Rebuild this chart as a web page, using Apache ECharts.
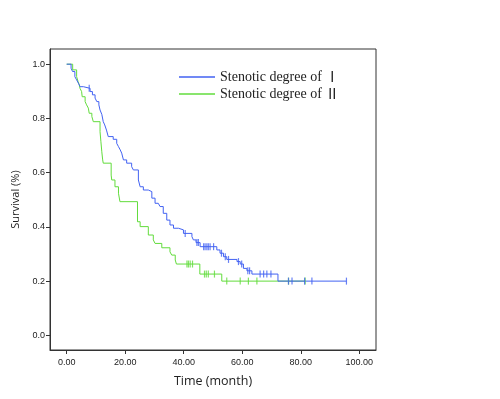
<!DOCTYPE html>
<html>
<head>
<meta charset="utf-8">
<script src="https://cdn.jsdelivr.net/npm/echarts@6/dist/echarts.min.js"></script>
<style>
  html, body { margin: 0; padding: 0; background: #fff; }
  #chart { width: 500px; height: 399px; }
</style>
</head>
<body>
<div id="chart"></div>
<script>
// Kaplan-Meier steps, [time (month), survival]
const degree1Steps = [
  [0, 1.0], [1.5, 0.985], [2.0, 0.973], [2.8, 0.954], [3.4, 0.942], [4.0, 0.930],
  [4.6, 0.917], [5.7, 0.911], [8.0, 0.899], [8.8, 0.887], [9.7, 0.875], [10.3, 0.862],
  [11.0, 0.850], [11.4, 0.831], [12.0, 0.815], [12.5, 0.788], [13.0, 0.776], [13.6, 0.757],
  [14.2, 0.733], [15.9, 0.723], [17.1, 0.708], [17.7, 0.696], [18.3, 0.684], [18.8, 0.672],
  [19.4, 0.647], [20.5, 0.635], [22.2, 0.622], [22.8, 0.610], [24.5, 0.573], [25.1, 0.548],
  [26.2, 0.536], [27.9, 0.530], [29.1, 0.506], [30.2, 0.487], [31.3, 0.481], [31.9, 0.475],
  [33.0, 0.450], [34.2, 0.425], [35.3, 0.407], [36.5, 0.395], [38.2, 0.389], [39.9, 0.376],
  [42.8, 0.364], [43.3, 0.352], [44.2, 0.342], [45.6, 0.327], [51.3, 0.315], [52.4, 0.303],
  [53.6, 0.290], [54.7, 0.280], [58.2, 0.272], [59.3, 0.263], [60.4, 0.247], [61.6, 0.238],
  [63.3, 0.226], [72.2, 0.200], [95.6, 0.200]
];
const degree2Steps = [
  [0, 1.0], [2.05, 0.979], [3.4, 0.954], [3.9, 0.936], [4.3, 0.924], [4.55, 0.911],
  [5.1, 0.899], [5.3, 0.880], [6.3, 0.862], [6.8, 0.850], [7.4, 0.838], [7.7, 0.819],
  [8.6, 0.807], [9.1, 0.788], [11.4, 0.751], [11.7, 0.714], [12.0, 0.677], [12.3, 0.647],
  [12.5, 0.635], [15.2, 0.591], [15.4, 0.573], [16.5, 0.548], [17.7, 0.524], [18.2, 0.493],
  [24.2, 0.419], [25.1, 0.401], [27.9, 0.370], [29.6, 0.352], [30.2, 0.339], [32.5, 0.323],
  [35.3, 0.308], [35.9, 0.296], [37.1, 0.278], [37.5, 0.263], [45.5, 0.226], [53.0, 0.200],
  [81.5, 0.200]
];
// censored observations
const degree1Censored = [
  [7.7, 0.911], [40.5, 0.376], [44.5, 0.342], [45.0, 0.342], [46.8, 0.327], [47.3, 0.327],
  [47.9, 0.327], [48.4, 0.327], [49.0, 0.327], [50.2, 0.327], [52.9, 0.303], [54.2, 0.290],
  [55.3, 0.280], [58.7, 0.272], [59.8, 0.263], [61.9, 0.238], [62.5, 0.238], [66.1, 0.226],
  [67.3, 0.226], [68.4, 0.226], [69.8, 0.226], [75.8, 0.2], [77.0, 0.2], [81.3, 0.2],
  [83.8, 0.2], [95.6, 0.2]
];
const degree2Censored = [
  [41.1, 0.263], [41.6, 0.263], [42.2, 0.263], [43.0, 0.263], [47.1, 0.226], [47.7, 0.226],
  [48.4, 0.226], [50.5, 0.226], [54.7, 0.2], [59.3, 0.2], [62.1, 0.2], [65.0, 0.2],
  [75.8, 0.2], [81.5, 0.2]
];
const xTicks = [0, 20, 40, 60, 80, 100];
const yTicks = [0, 0.2, 0.4, 0.6, 0.8, 1.0];
const groupLabel = 'Stenotic degree of ';
const degreeNumerals = ['\u2160', '\u2161'];
const seriesNames = degreeNumerals.map(n => groupLabel + n);

const BLUE = '#4262f2';
const GREEN = '#62dc3c';
const AXIS = '#333';

const chart = echarts.init(document.getElementById('chart'));

const labelFont = { fontFamily: 'Liberation Sans', fontSize: 9, color: '#222' };

chart.setOption({
  animation: false,
  backgroundColor: '#fff',
  grid: {
    left: 50, top: 49, right: 124, bottom: 49,
    show: true, borderColor: AXIS, borderWidth: 1, backgroundColor: 'transparent'
  },
  legend: {
    data: seriesNames,
    orient: 'vertical',
    left: 179, top: 70, padding: 0,
    icon: 'rect',
    itemWidth: 36, itemHeight: 1.5, itemGap: 3,
    // roman numeral drawn with a CJK font so it is full width, as in the original
    formatter: name => groupLabel + '{n|' + name.slice(groupLabel.length) + '}',
    textStyle: {
      fontFamily: 'Liberation Serif', fontSize: 14, lineHeight: 14, color: '#222',
      rich: { n: { fontFamily: 'Noto Sans CJK SC', fontSize: 14, lineHeight: 14, color: '#222' } }
    }
  },
  xAxis: {
    type: 'value',
    min: -5.7, max: 105.7,
    name: 'Time (month)',
    nameLocation: 'middle',
    nameGap: 25,
    nameTextStyle: { fontFamily: 'Open Sans', fontSize: 12.5, color: '#222' },
    axisLine: { show: true, onZero: false, lineStyle: { color: AXIS, width: 1 } },
    axisTick: { show: true, length: 4, customValues: xTicks, lineStyle: { color: AXIS } },
    axisLabel: { ...labelFont, margin: 8, customValues: xTicks, formatter: v => v.toFixed(2) },
    splitLine: { show: false }
  },
  yAxis: {
    type: 'value',
    min: -0.054, max: 1.056,
    name: 'Survival (%)',
    nameLocation: 'middle',
    nameGap: 23,
    nameTextStyle: { fontFamily: 'Open Sans', fontSize: 11, color: '#222' },
    axisLine: { show: true, onZero: false, lineStyle: { color: AXIS, width: 1 } },
    axisTick: { show: true, length: 4, customValues: yTicks, lineStyle: { color: AXIS } },
    axisLabel: { ...labelFont, margin: 5, customValues: yTicks, formatter: v => v.toFixed(1) },
    splitLine: { show: false }
  },
  series: [
    {
      name: seriesNames[1], type: 'line', step: 'end', data: degree2Steps,
      symbol: 'none', lineStyle: { color: GREEN, width: 1 }, itemStyle: { color: GREEN }, z: 2
    },
    {
      name: seriesNames[0], type: 'line', step: 'end', data: degree1Steps,
      symbol: 'none', lineStyle: { color: BLUE, width: 1 }, itemStyle: { color: BLUE }, z: 3
    },
    {
      name: 'censor2', type: 'scatter', data: degree2Censored,
      symbol: 'rect', symbolSize: [1.2, 7], itemStyle: { color: GREEN }, z: 4
    },
    {
      name: 'censor1', type: 'scatter', data: degree1Censored,
      symbol: 'rect', symbolSize: [1.2, 7], itemStyle: { color: BLUE }, z: 5
    }
  ]
});
</script>
</body>
</html>
